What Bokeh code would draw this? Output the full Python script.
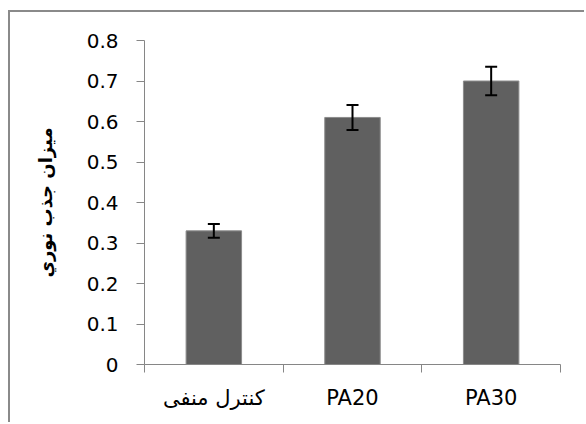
from bokeh.plotting import figure
from bokeh.models import ColumnDataSource, Whisker, TeeHead, FixedTicker, Range1d, Div, Spacer
from bokeh.layouts import column, row
from bokeh.embed import file_html
from bokeh.resources import INLINE

categories = ["کنترل منفی", "PA20", "PA30"]
values = [0.33, 0.61, 0.70]
errors = [0.017, 0.031, 0.035]
y_ticks = [0, 0.1, 0.2, 0.3, 0.4, 0.5, 0.6, 0.7, 0.8]
y_tick_labels = ["0", "0.1", "0.2", "0.3", "0.4", "0.5", "0.6", "0.7", "0.8"]
y_title = "میزان جذب نوري"

xs = [i + 0.5 for i in range(len(categories))]
src = ColumnDataSource(dict(
    x=xs, top=values,
    upper=[v + e for v, e in zip(values, errors)],
    lower=[v - e for v, e in zip(values, errors)],
))

AX = "#868686"
BORDER = "#8a8a8a"
p = figure(width=568, height=404, x_range=Range1d(0, len(categories)), y_range=Range1d(0, 0.8),
           output_backend="svg", toolbar_location=None,
           min_border_left=134, min_border_top=28, min_border_right=18, min_border_bottom=52)
p.outline_line_color = None
p.grid.visible = False

p.vbar(x="x", top="top", width=0.4, source=src, fill_color="#606060", line_color="#8c8c8c", line_width=1)

w = Whisker(base="x", upper="upper", lower="lower", source=src, line_color="black", line_width=2,
            upper_head=TeeHead(size=12, line_width=2, line_color="black"),
            lower_head=TeeHead(size=12, line_width=2, line_color="black"), level="overlay")
p.add_layout(w)

# x axis
p.xaxis.ticker = FixedTicker(ticks=xs, minor_ticks=list(range(len(categories) + 1)))
p.xaxis.major_label_overrides = {x: c for x, c in zip(xs, categories)}
p.xaxis.major_tick_out = 0
p.xaxis.major_tick_in = 0
p.xaxis.minor_tick_out = 8
p.xaxis.minor_tick_in = 0
p.xaxis.minor_tick_line_color = AX
p.xaxis.axis_line_color = AX
p.xaxis.major_label_standoff = 13
p.xaxis.major_label_text_font = "DejaVu Sans"
p.xaxis.major_label_text_font_size = "21px"
p.xaxis.major_label_text_color = "black"

# y axis
p.yaxis.ticker = FixedTicker(ticks=y_ticks)
p.yaxis.major_label_overrides = {t: l for t, l in zip(y_ticks, y_tick_labels)}
p.yaxis.major_tick_out = 8
p.yaxis.major_tick_in = 0
p.yaxis.minor_tick_line_color = None
p.yaxis.major_tick_line_color = AX
p.yaxis.axis_line_color = AX
p.yaxis.major_label_standoff = 18
p.yaxis.major_label_text_font = "DejaVu Sans"
p.yaxis.major_label_text_font_size = "20px"
p.yaxis.major_label_text_color = "black"
p.yaxis.axis_label = y_title
p.yaxis.axis_label_text_font = "DejaVu Sans"
p.yaxis.axis_label_text_font_style = "bold"
p.yaxis.axis_label_text_font_size = "18px"
p.yaxis.axis_label_standoff = 28
p.yaxis.axis_label_text_color = "black"

# chart-area border (top and left edges; right/bottom lie beyond the window)
top_edge = Div(text="", width=576, height=2, margin=0, styles={"background-color": BORDER})
left_edge = Div(text="", width=2, height=410, margin=0, styles={"background-color": BORDER})
layout = column(
    Spacer(width=584, height=10, margin=0),
    row(Spacer(width=8, height=412, margin=0),
        column(top_edge, row(left_edge, p, spacing=0), spacing=0),
        spacing=0),
    spacing=0,
)

open("out.html", "w").write(file_html(layout, INLINE))
